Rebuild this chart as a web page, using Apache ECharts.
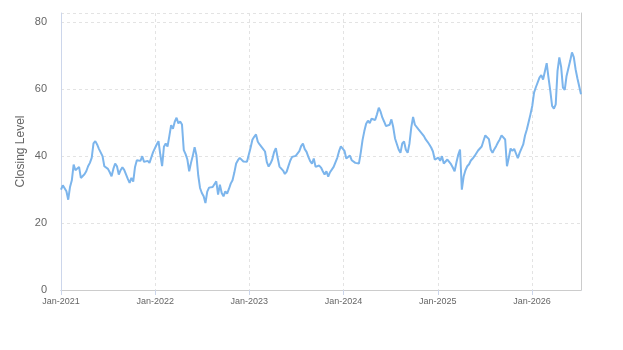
<!DOCTYPE html>
<html>
<head>
<meta charset="utf-8">
<script src="https://cdn.jsdelivr.net/npm/echarts@6/dist/echarts.min.js"></script>
<style>
  html, body { margin: 0; padding: 0; background: #fff; }
  #chart { width: 623px; height: 350px; }
</style>
</head>
<body>
<div id="chart"></div>
<script>
// weekly closing levels, starting 2021-01-01
const firstWeek = '2021-01-01'
const weekDays = 7
const axisEnd = '2026-07-10'

const closes2021 = [30, 31.3, 31.6, 29.5, 27, 30.8, 32.8, 37.5, 35.8, 35.5, 36.8, 33.5, 33.3, 34.6, 35.5, 37, 38, 39.5, 43.8, 44.5, 43.5, 42.2, 42.6, 40, 37, 37.2, 36.2, 35.2, 34, 36.2, 37.8, 37, 34.5, 35.8, 36.7, 35.9, 36.3, 33.2, 32, 33.5, 32.4, 36.8, 38.8, 38.6, 38.6, 40, 38.3, 38, 38.6, 38, 38.5, 41.2]
const closes2022 = [41.5, 43.5, 44.5, 40.5, 37, 42.8, 43.8, 42.9, 46, 49.3, 48.2, 50.3, 51.5, 49.8, 50.4, 49.5, 41.8, 40.6, 39, 35.5, 38, 40.1, 42.7, 40.3, 34.3, 30.5, 29, 28, 26, 29.4, 30.6, 30.8, 30.8, 31, 32.5, 28.5, 31.5, 29, 28, 29.5, 28.8, 30.2, 31.8, 32.8, 35.1, 37.8, 38.8, 39.5, 39, 38.4, 37.9, 38.3]
const closes2023 = [38.5, 42.5, 44.9, 45.8, 46.5, 44.3, 43.5, 43, 42.1, 41.4, 38.2, 36.9, 37.8, 39, 41.2, 42.4, 39.5, 36.9, 36.3, 35.7, 34.7, 35.4, 37.1, 38.7, 39.8, 39.4, 40.1, 39.9, 41.5, 43, 43.8, 42.1, 41.3, 39.8, 38.5, 37.8, 39.3, 36.8, 36.5, 37.2, 36.6, 35.5, 34.5, 35.5, 33.9, 35.2, 35, 36.8, 37.2, 39.5, 41.5, 42.9]
const closes2024 = [42.7, 41.6, 39.3, 39.6, 40.2, 38.8, 38.7, 38, 38.4, 37.8, 41, 44.8, 47.5, 49.7, 50.6, 49.9, 51.2, 51.7, 50.8, 52.5, 54.5, 53.3, 51.5, 50.3, 49, 49.4, 49.4, 51, 48.7, 45.3, 45.6, 42, 41, 43.8, 44.4, 41.9, 41, 43.8, 48.6, 51.7, 49.4, 49.6, 48, 48, 46.7, 46, 45, 44.3, 43.5, 42.6, 41.4, 39]
const closes2025 = [39.3, 39.6, 38.6, 40, 37.8, 37.5, 39, 38.8, 37.6, 36.6, 35.5, 38.1, 40.4, 42, 30, 33.9, 35.8, 37, 37.6, 38.7, 39.3, 40, 39.9, 41.7, 41.3, 42.9, 44.6, 46.2, 45.8, 45.1, 42, 41, 42.1, 43, 44.1, 45, 46.2, 46, 45, 37, 39.5, 42.3, 41.6, 42.2, 40.8, 39.4, 41, 40.5, 43.5, 46.2, 48, 50.2]
const closes2026 = [52.5, 55, 59, 60.6, 60.5, 63.5, 64.2, 62.9, 63.1, 67.8, 63.5, 59.5, 55, 54.2, 55.5, 65.5, 69.5, 66.7, 60.5, 59.8, 64, 63.5, 68.5, 71, 69.6, 66, 63.3, 63, 58.5]

const yTicks = [0, 20, 40, 60, 80]
const monthNames = ['Jan', 'Feb', 'Mar', 'Apr', 'May', 'Jun', 'Jul', 'Aug', 'Sep', 'Oct', 'Nov', 'Dec']

const closes = [].concat(closes2021, closes2022, closes2023, closes2024, closes2025, closes2026)
const start = new Date(firstWeek + 'T00:00:00').getTime()
const seriesData = closes.map((v, i) => [start + i * weekDays * 86400000, v])

const chart = echarts.init(document.getElementById('chart'))
const axisColor = '#ccd6eb'
const gridColor = '#e3e3e3'
const labelColor = '#666666'
const yMax = 82.8
const oneYear = 365 * 86400000

chart.setOption({
  animation: false,
  backgroundColor: '#ffffff',
  textStyle: { fontFamily: 'Liberation Sans, Arial, sans-serif' },
  grid: { left: 61, right: 42, top: 13, bottom: 60 },
  xAxis: [
    {
      type: 'time',
      min: new Date(firstWeek + 'T00:00:00').getTime(),
      max: new Date(axisEnd + 'T00:00:00').getTime(),
      minInterval: oneYear,
      maxInterval: oneYear,
      axisLine: { lineStyle: { color: axisColor } },
      axisTick: { show: true, length: 5, lineStyle: { color: axisColor } },
      axisLabel: {
        color: labelColor,
        fontSize: 9,
        margin: 7,
        formatter: (value) => {
          const d = new Date(value)
          return `${monthNames[d.getMonth()]}-${d.getFullYear()}`
        },
      },
      splitLine: { show: true, lineStyle: { color: gridColor, type: [3, 3] } },
    },
    {
      type: 'time',
      position: 'top',
      min: new Date(firstWeek + 'T00:00:00').getTime(),
      max: new Date(axisEnd + 'T00:00:00').getTime(),
      axisLine: { show: true, lineStyle: { color: '#cccccc' } },
      axisTick: { show: false },
      axisLabel: { show: false },
      splitLine: { show: false },
    },
  ],
  yAxis: [
    {
      type: 'value',
      min: yTicks[0],
      max: yMax,
      interval: 20,
      name: 'Closing Level',
      nameLocation: 'middle',
      nameGap: 34,
      nameMoveOverlap: false,
      nameTextStyle: { color: labelColor, fontSize: 12 },
      axisLine: { show: true, lineStyle: { color: axisColor } },
      axisTick: { show: false },
      axisLabel: {
        color: labelColor,
        fontSize: 11,
        margin: 14,
        showMaxLabel: false,
        formatter: (v) => (yTicks.includes(v) ? String(v) : ''),
      },
      splitLine: { show: true, lineStyle: { color: gridColor, type: [3, 3] } },
    },
    {
      type: 'value',
      position: 'right',
      min: yTicks[0],
      max: yMax,
      axisLine: { show: true, lineStyle: { color: '#cccccc' } },
      axisTick: { show: false },
      axisLabel: { show: false },
      splitLine: { show: false },
    },
  ],
  series: [
    {
      name: 'Closing Level',
      type: 'line',
      data: seriesData,
      showSymbol: false,
      lineStyle: { color: '#7cb5ec', width: 2 },
      itemStyle: { color: '#7cb5ec' },
    },
  ],
})
</script>
</body>
</html>
